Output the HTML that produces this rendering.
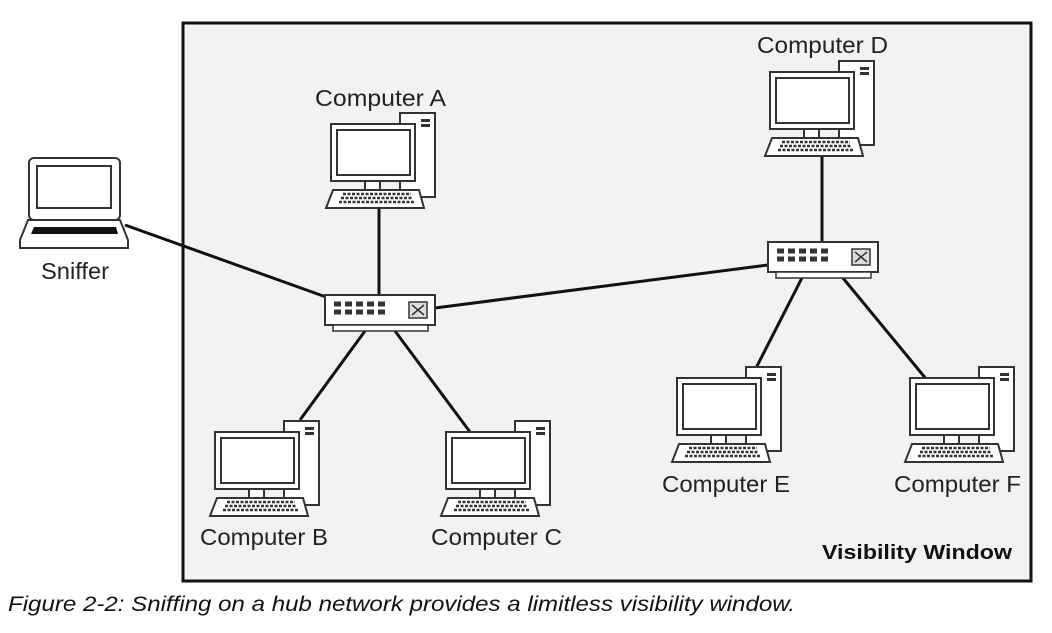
<!DOCTYPE html><html><head><style>body{margin:0;background:#fff}</style></head><body>
<svg width="1052" height="628" xmlns="http://www.w3.org/2000/svg" font-family="Liberation Sans, sans-serif">
<defs>
<g id="pc">
<rect x="69" y="-11" width="35" height="84" fill="#fff" stroke="#333" stroke-width="2"/>
<rect x="90" y="-5" width="9" height="3" fill="#333"/><rect x="90" y="0" width="9" height="3" fill="#333"/>
<rect x="0" y="0" width="84" height="57" fill="#fff" stroke="#333" stroke-width="2"/>
<rect x="6" y="6" width="73" height="45" fill="#fff" stroke="#333" stroke-width="2"/>
<rect x="34" y="57" width="15" height="9" fill="#fff" stroke="#333" stroke-width="2"/>
<path d="M2 66 H88 L93 84 H-5 Z" fill="#fff" stroke="#333" stroke-width="2"/>
<path d="M12 70 H80 M10 74 H82 M8 78 H84" stroke="#333" stroke-width="2.5" stroke-dasharray="3 1.5"/>
</g>
<g id="hub">
<rect x="0" y="0" width="110" height="30" fill="#fff" stroke="#333" stroke-width="2"/>
<rect x="8" y="30" width="95" height="6" fill="#fff" stroke="#333" stroke-width="1.5"/>
<path d="M9 9 H62 M9 17 H62" stroke="#333" stroke-width="5" stroke-dasharray="7 4"/>
<rect x="84" y="7" width="18" height="16" fill="#ddd" stroke="#333" stroke-width="1.5"/>
<path d="M87 10 L99 20 M87 20 L99 10" stroke="#333" stroke-width="1.5"/>
</g>
</defs>
<rect x="183" y="23" width="848" height="558" fill="#f2f2f2" stroke="#111" stroke-width="3"/>
<g stroke="#111" stroke-width="3">
<line x1="125" y1="225" x2="326" y2="297"/>
<line x1="379" y1="296" x2="379" y2="208"/>
<line x1="435" y1="308" x2="768" y2="265"/>
<line x1="365" y1="331" x2="300" y2="420"/>
<line x1="395" y1="331" x2="470" y2="432"/>
<line x1="822" y1="242" x2="822" y2="156"/>
<line x1="805" y1="272" x2="755" y2="370"/>
<line x1="838" y1="272" x2="927" y2="380"/>
</g>
<use href="#pc" x="331" y="124"/>
<use href="#pc" x="770" y="72"/>
<use href="#pc" x="215" y="432"/>
<use href="#pc" x="446" y="432"/>
<use href="#pc" x="677" y="378"/>
<use href="#pc" x="910" y="378"/>
<use href="#hub" x="325" y="295"/>
<use href="#hub" x="768" y="242"/>
<rect x="29" y="158" width="91" height="62" rx="5" fill="#fff" stroke="#333" stroke-width="2"/>
<rect x="37" y="166" width="74" height="42" fill="#fff" stroke="#333" stroke-width="2"/>
<path d="M28 220 H120 L128 240 V248 H20 V240 Z" fill="#fff" stroke="#333" stroke-width="2"/>
<path d="M34 227 H116 L118 234 H31 Z" fill="#111"/>
<g font-size="23" fill="#222" lengthAdjust="spacingAndGlyphs">
<text x="41" y="279" textLength="68" lengthAdjust="spacingAndGlyphs">Sniffer</text>
<text x="315" y="106" textLength="131" lengthAdjust="spacingAndGlyphs">Computer A</text>
<text x="757" y="53" textLength="131" lengthAdjust="spacingAndGlyphs">Computer D</text>
<text x="200" y="545" textLength="128" lengthAdjust="spacingAndGlyphs">Computer B</text>
<text x="431" y="545" textLength="131" lengthAdjust="spacingAndGlyphs">Computer C</text>
<text x="662" y="492" textLength="128" lengthAdjust="spacingAndGlyphs">Computer E</text>
<text x="894" y="492" textLength="127" lengthAdjust="spacingAndGlyphs">Computer F</text>
</g>
<text x="822" y="559" font-size="20" font-weight="bold" fill="#111" textLength="190" lengthAdjust="spacingAndGlyphs">Visibility Window</text>
<text x="8" y="611" font-size="21" font-style="italic" fill="#111" textLength="787" lengthAdjust="spacingAndGlyphs">Figure 2-2: Sniffing on a hub network provides a limitless visibility window.</text>
</svg>
</body></html>
